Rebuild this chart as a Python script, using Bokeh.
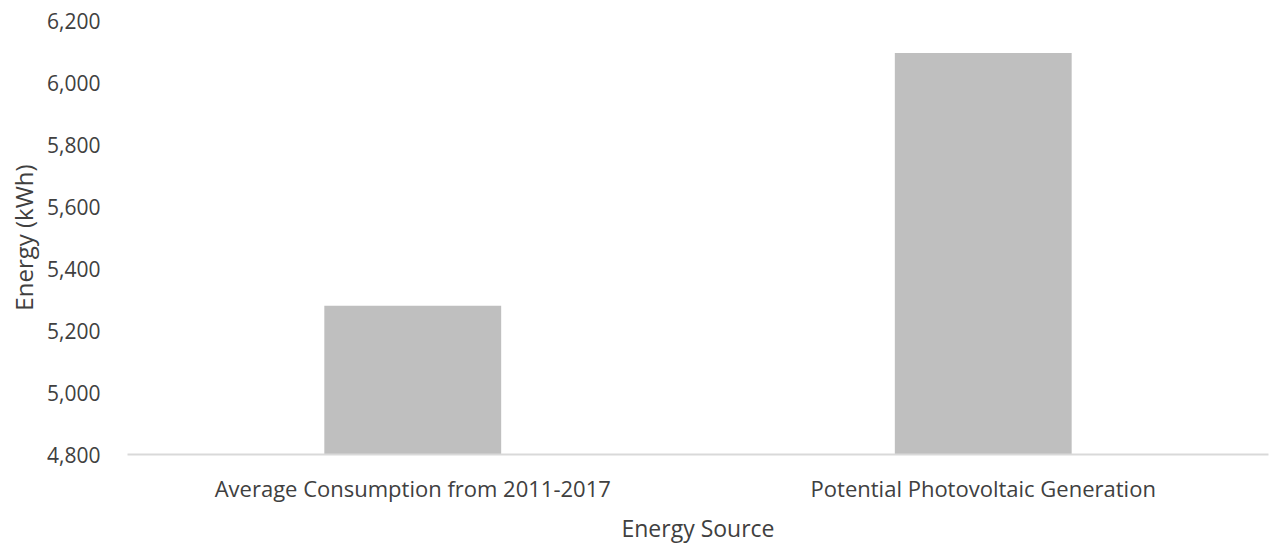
from bokeh.plotting import figure
from bokeh.models import ColumnDataSource, FactorRange, Range1d, FixedTicker, NumeralTickFormatter
from bokeh.embed import file_html
from bokeh.resources import INLINE

categories = ["Average Consumption from 2011-2017", "Potential Photovoltaic Generation"]
energy_kwh = [5280, 6095]
y_ticks = [4800, 5000, 5200, 5400, 5600, 5800, 6000, 6200]

source = ColumnDataSource(data=dict(cat=categories, val=energy_kwh))

FONT = "Open Sans"
TXT = "#404040"

p = figure(
    x_range=FactorRange(*categories, range_padding=0),
    y_range=Range1d(4800, 6200),
    width=1269, height=546,
    output_backend="svg", toolbar_location=None,
    min_border_left=127, min_border_right=1, min_border_top=20, min_border_bottom=91,
)
p.vbar(x="cat", top="val", bottom=4800, width=0.31, source=source,
       fill_color="#bfbfbf", line_color=None)

p.outline_line_color = None
p.xgrid.grid_line_color = None
p.ygrid.grid_line_color = None
p.background_fill_color = "white"
p.border_fill_color = "white"

# y axis
p.yaxis.ticker = FixedTicker(ticks=y_ticks)
p.yaxis.formatter = NumeralTickFormatter(format="0,0")
p.yaxis.axis_line_color = None
p.yaxis.major_tick_line_color = None
p.yaxis.minor_tick_line_color = None
p.yaxis.major_tick_out = 0
p.yaxis.major_tick_in = 0
p.yaxis.minor_tick_out = 0
p.yaxis.major_label_standoff = 27
p.yaxis.major_label_text_font = FONT
p.yaxis.major_label_text_font_size = "21px"
p.yaxis.major_label_text_color = TXT
p.yaxis.axis_label = "Energy (kWh)"
p.yaxis.axis_label_text_font = FONT
p.yaxis.axis_label_text_font_size = "24px"
p.yaxis.axis_label_text_font_style = "normal"
p.yaxis.axis_label_text_color = TXT
p.yaxis.axis_label_standoff = 4

# x axis
p.xaxis.axis_line_color = "#d9d9d9"
p.xaxis.axis_line_width = 2
p.xaxis.major_tick_line_color = None
p.xaxis.minor_tick_line_color = None
p.xaxis.major_tick_out = 0
p.xaxis.major_tick_in = 0
p.xaxis.minor_tick_out = 0
p.xaxis.major_label_standoff = 18
p.xaxis.major_label_text_font = FONT
p.xaxis.major_label_text_font_size = "22px"
p.xaxis.major_label_text_color = TXT
p.xaxis.axis_label = "Energy Source"
p.xaxis.axis_label_text_font = FONT
p.xaxis.axis_label_text_font_size = "23px"
p.xaxis.axis_label_text_font_style = "normal"
p.xaxis.axis_label_text_color = TXT
p.xaxis.axis_label_standoff = 6

open("out.html", "w").write(file_html(p, INLINE))
